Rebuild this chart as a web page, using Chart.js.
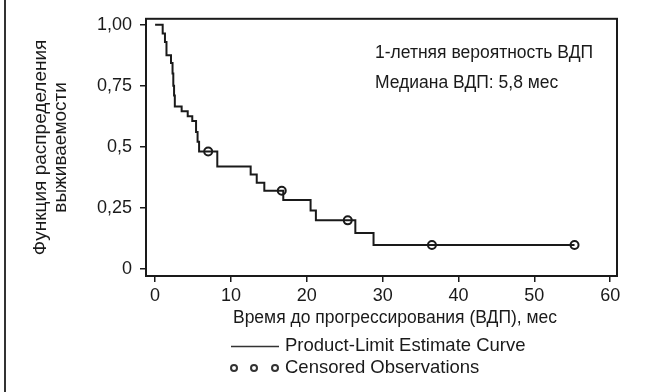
<!DOCTYPE html>
<html>
<head>
<meta charset="utf-8">
<script src="https://cdn.jsdelivr.net/npm/chart.js@4/dist/chart.umd.min.js"></script>
<style>
  body { margin: 0; background: #fff; }
  #wrap { width: 661px; height: 392px; }
</style>
</head>
<body>
<div id="wrap"><canvas id="myChart" width="661" height="392"></canvas></div>
<script>
// datos de la curva
const tiempos = [0, 1.0, 1.3, 1.5, 2.1, 2.3, 2.4, 2.5, 2.6, 3.5, 4.3, 4.9, 5.4, 5.6, 5.8, 8.2, 12.6, 13.4, 14.4, 16.9, 20.5, 21.2, 26.4, 28.8, 55.3];
const supervivencia = [1, 0.964, 0.929, 0.875, 0.843, 0.80, 0.75, 0.71, 0.665, 0.645, 0.625, 0.605, 0.56, 0.52, 0.48, 0.419, 0.386, 0.352, 0.319, 0.281, 0.238, 0.198, 0.146, 0.097, 0.097];

// observaciones censuradas
const censTiempos = [7.0, 16.7, 25.4, 36.5, 55.3];
const censValores = [0.48, 0.319, 0.198, 0.097, 0.097];

// ticks
const xTicks = [0, 10, 20, 30, 40, 50, 60];
const yTicks = [0, 0.25, 0.5, 0.75, 1];
const yTickLabels = ['0', '0,25', '0,5', '0,75', '1,00'];

const tituloX = 'Время до прогрессирования (ВДП), мес';
const tituloY = ['Функция распределения', 'выживаемости'];
const notas = ['1-летняя вероятность ВДП', 'Медиана ВДП: 5,8 мес'];
const leyenda = ['Product-Limit Estimate Curve', 'Censored Observations'];

const fuente = '"Liberation Sans", Arial, sans-serif';
const negro = '#1a1a1a';

// marco, textos y leyenda
const extras = {
    id: 'extras',
    afterDraw(chart) {
        const ctx = chart.ctx;
        const a = chart.chartArea;
        ctx.save();
        ctx.strokeStyle = negro;
        ctx.lineWidth = 2;
        ctx.strokeRect(a.left, a.top, a.right - a.left, a.bottom - a.top);

        // linea del borde izquierdo
        ctx.strokeStyle = '#333';
        ctx.beginPath();
        ctx.moveTo(5, 0);
        ctx.lineTo(5, chart.height);
        ctx.stroke();

        ctx.fillStyle = negro;
        ctx.font = '17.5px ' + fuente;
        ctx.textBaseline = 'middle';

        // notas dentro del grafico
        ctx.textAlign = 'left';
        ctx.fillText(notas[0], 375, 53);
        ctx.fillText(notas[1], 375, 83);

        // titulo eje x
        ctx.textAlign = 'center';
        ctx.fillText(tituloX, 395, 318);

        // leyenda
        ctx.textAlign = 'left';
        ctx.font = '18.5px ' + fuente;
        ctx.fillText(leyenda[0], 285, 346);
        ctx.fillText(leyenda[1], 285, 368);
        ctx.lineWidth = 1.5;
        ctx.beginPath();
        ctx.moveTo(231, 346.5);
        ctx.lineTo(279, 346.5);
        ctx.stroke();
        ctx.lineWidth = 2;
        [234, 254, 275].forEach(cx => {
            ctx.beginPath();
            ctx.arc(cx, 368, 3, 0, Math.PI * 2);
            ctx.stroke();
        });
        ctx.restore();
    }
};

const ctx = document.getElementById('myChart').getContext('2d');

new Chart(ctx, {
    type: 'scatter',
    data: {
        datasets: [
            {
                label: leyenda[0],
                type: 'line',
                data: tiempos.map((t, i) => ({ x: t, y: supervivencia[i] })),
                stepped: true,
                borderColor: negro,
                borderWidth: 2,
                pointRadius: 0,
                fill: false,
            },
            {
                label: leyenda[1],
                data: censTiempos.map((t, i) => ({ x: t, y: censValores[i] })),
                pointStyle: 'circle',
                pointRadius: 4,
                pointBorderWidth: 2,
                pointBorderColor: negro,
                pointBackgroundColor: 'rgba(0,0,0,0)',
            }
        ]
    },
    options: {
        responsive: false,
        animation: false,
        layout: { padding: { top: 14, right: 44, left: 0, bottom: 0 } },
        scales: {
            x: {
                type: 'linear',
                min: -1.2,
                max: 60.9,
                afterFit: (scale) => { scale.height = 116; },
                afterBuildTicks: (scale) => { scale.ticks = xTicks.map(v => ({ value: v })); },
                ticks: {
                    color: negro,
                    padding: 3,
                    font: { family: fuente, size: 18 },
                    callback: (v) => String(v),
                },
                grid: { drawOnChartArea: false, tickLength: 6, color: negro, lineWidth: 1.5 },
                border: { display: true, color: negro, width: 2 },
            },
            y: {
                min: -0.03,
                max: 1.024,
                afterFit: (scale) => { scale.width = 146; },
                afterBuildTicks: (scale) => { scale.ticks = yTicks.map(v => ({ value: v })); },
                ticks: {
                    color: negro,
                    padding: 8,
                    font: { family: fuente, size: 18 },
                    callback: (v) => yTickLabels[yTicks.indexOf(v)],
                },
                title: {
                    display: true,
                    text: tituloY,
                    color: negro,
                    font: { family: fuente, size: 19, lineHeight: 1.05 },
                    padding: { top: 31, bottom: 0 },
                },
                grid: { drawOnChartArea: false, tickLength: 6, color: negro, lineWidth: 1.5 },
                border: { display: true, color: negro, width: 2 },
            }
        },
        plugins: {
            legend: { display: false },
            tooltip: { enabled: false },
        }
    },
    plugins: [extras]
});
</script>
</body>
</html>
